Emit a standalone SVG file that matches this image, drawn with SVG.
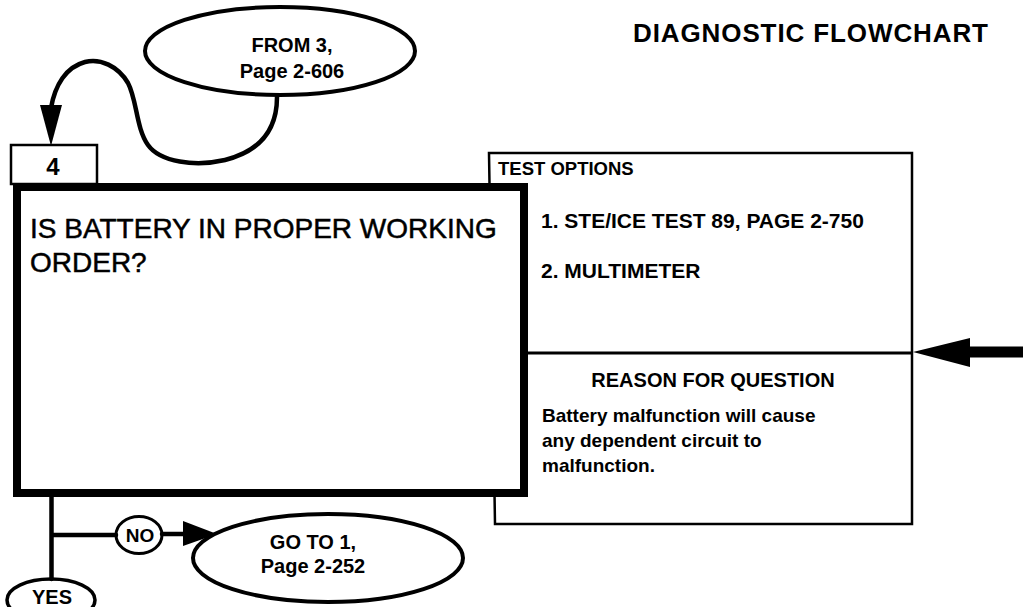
<svg xmlns="http://www.w3.org/2000/svg" width="1023" height="607" viewBox="0 0 1023 607">
<style>
text{font-family:"Liberation Sans",Arial,Helvetica,sans-serif;fill:#000}
.b{font-weight:bold}
.q{font-size:28px;stroke:#000;stroke-width:0.5}
.ln{fill:none;stroke:#000;stroke-linecap:round;stroke-linejoin:round}
.oval{fill:#fff;stroke:#000;stroke-width:4}
</style>
<rect width="1023" height="607" fill="#fff"/>
<text class="b" x="633" y="42" font-size="26" textLength="355">DIAGNOSTIC FLOWCHART</text>

<g id="from3">
<ellipse class="oval" cx="280" cy="51" rx="135" ry="44"/>
<text class="b" x="292" y="52" font-size="20" text-anchor="middle">FROM 3,</text>
<text class="b" x="292" y="78" font-size="20" text-anchor="middle">Page 2-606</text>
</g>

<g id="reason">
<path d="M489,153 H912 V524 H495 Z" fill="#fff" stroke="#000" stroke-width="2.5"/>
<line x1="524" y1="353" x2="912" y2="353" stroke="#000" stroke-width="3"/>
<text class="b" x="498" y="175" font-size="18.5">TEST OPTIONS</text>
<text class="b" x="541" y="228" font-size="21">1. STE/ICE TEST 89, PAGE 2-750</text>
<text class="b" x="541" y="278" font-size="21">2. MULTIMETER</text>
<text class="b" x="713" y="387" font-size="20" text-anchor="middle">REASON FOR QUESTION</text>
<text class="b" x="542" y="422" font-size="19">Battery malfunction will cause</text>
<text class="b" x="542" y="447" font-size="19">any dependent circuit to</text>
<text class="b" x="542" y="472" font-size="19">malfunction.</text>
</g>

<g id="step4">
<rect x="11" y="145" width="86" height="39" fill="#fff" stroke="#000" stroke-width="2.5"/>
<text class="b" x="53" y="175" font-size="24" text-anchor="middle">4</text>
</g>

<g id="question">
<rect x="17" y="187" width="507" height="306" fill="#fff" stroke="#000" stroke-width="8"/>
<text class="q" x="30" y="238">IS BATTERY IN PROPER WORKING</text>
<text class="q" x="30" y="272">ORDER?</text>
</g>

<g id="no">
<ellipse cx="139" cy="535" rx="23" ry="18.5" fill="#fff" stroke="#000" stroke-width="3"/>
<text class="b" x="140" y="541.5" font-size="19" text-anchor="middle">NO</text>
</g>

<g id="goto1">
<ellipse class="oval" cx="328" cy="558" rx="135" ry="44"/>
<text class="b" x="313" y="549" font-size="20" text-anchor="middle">GO TO 1,</text>
<text class="b" x="313" y="573" font-size="20" text-anchor="middle">Page 2-252</text>
</g>

<g id="yes">
<ellipse cx="51" cy="600" rx="44" ry="21" fill="#fff" stroke="#000" stroke-width="3.5"/>
<text class="b" x="52" y="604" font-size="20" text-anchor="middle">YES</text>
</g>

<g id="connectors">
<path class="ln" stroke-width="4.5" d="M277,97 C277,125 265,150 225,160 C195,167 160,162 148,145 C136,128 137,100 128,83 C118,66 100,58 85,62 C66,67 55,85 51,108"/>
<polygon points="40,105 62,105 51,146" fill="#000"/>
<path class="ln" stroke-width="4.5" d="M51.5,497 V579 M51.5,535 H116"/>
<path class="ln" stroke-width="4.5" d="M162,534 H186"/>
<polygon points="183,521 217,534 183,546" fill="#000"/>
<path d="M968,352 H1023" stroke="#000" stroke-width="11"/>
<polygon points="913,352 970,338 970,367" fill="#000"/>
</g>
</svg>
